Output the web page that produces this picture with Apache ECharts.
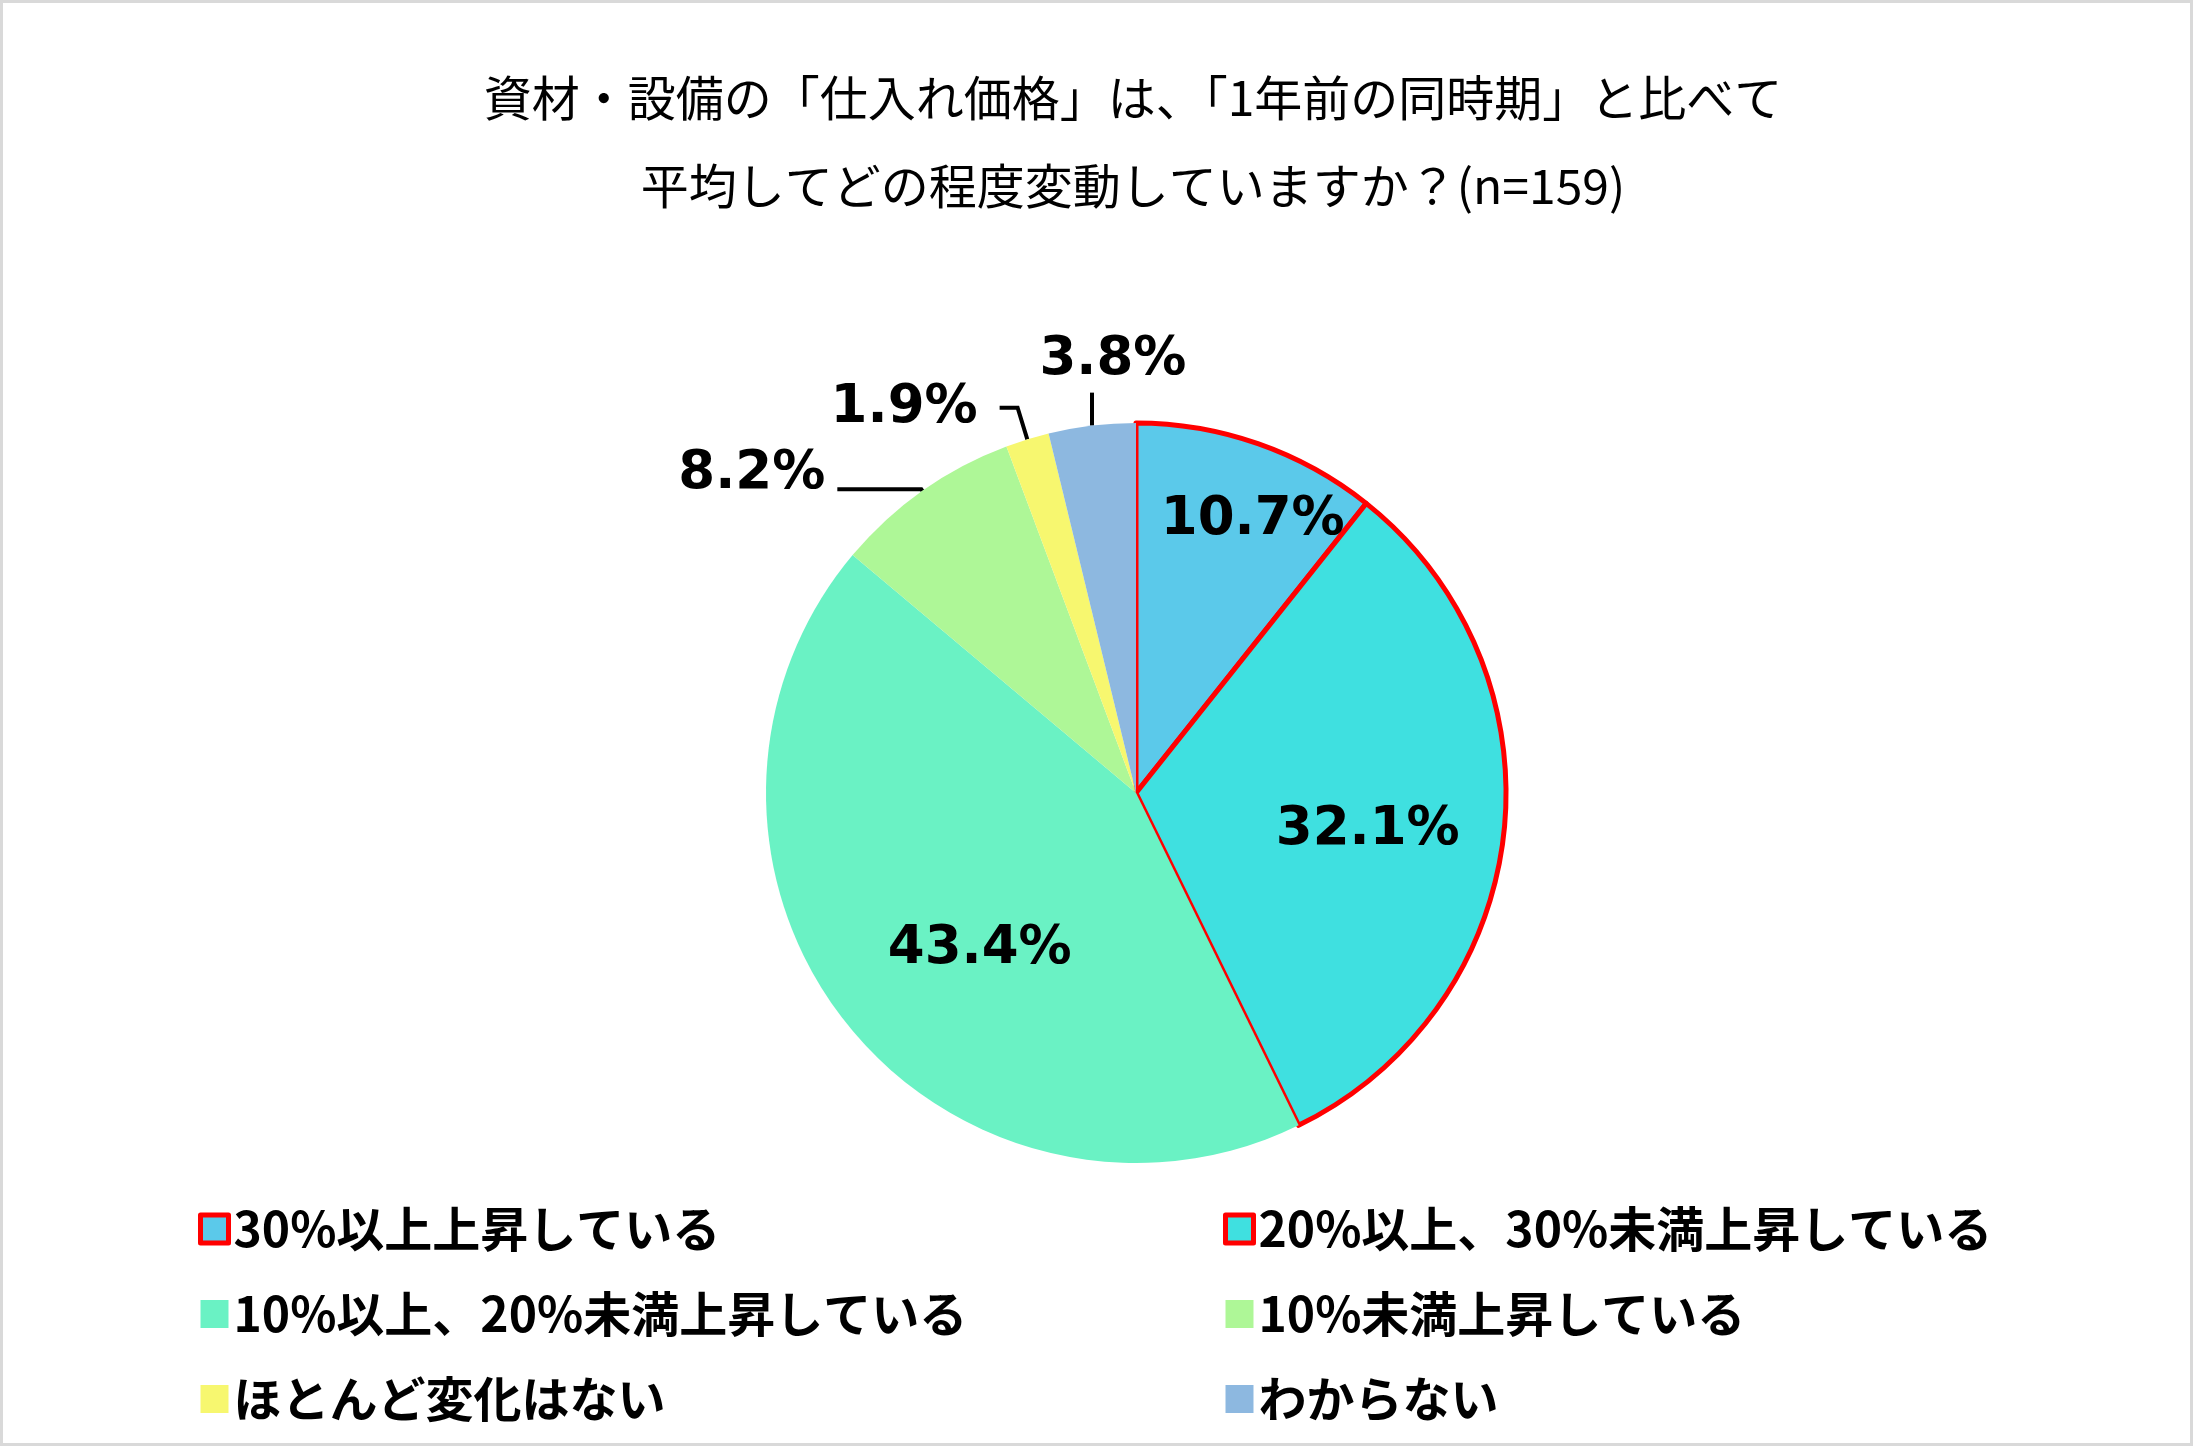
<!DOCTYPE html>
<html><head><meta charset="utf-8">
<script src="https://cdn.jsdelivr.net/npm/echarts@6/dist/echarts.min.js"></script>
<style>html,body{margin:0;padding:0;background:#fff}#c{width:2193px;height:1446px}</style>
</head><body><div id="c"></div>
<script>
const titleText = '資材・設備の「仕入れ価格」は、「1年前の同時期」と比べて\n平均してどの程度変動していますか？(n=159)';
const categories = ['30%以上上昇している','20%以上、30%未満上昇している','10%以上、20%未満上昇している','10%未満上昇している','ほとんど変化はない','わからない'];
const values = [10.7, 32.1, 43.4, 8.2, 1.9, 3.8];
const colors = ['#5BC9EA','#3FE0E0','#6AF2C4','#AEF797','#F7F76F','#8DB8E0'];
const highlighted = [true, true, false, false, false, false];
const insideLabels = [true, true, true, false, false, false];

const chart = echarts.init(document.getElementById('c'), null, {renderer:'canvas'});
const labelFont = {fontFamily:'DejaVu Sans', fontWeight:'bold', fontSize:53, color:'#000'};
const C = [1136, 793], R = 370;
const fmt = p => p.value.toFixed(1) + '%';

const lineLen = [null, null, null, [2, 84], [33, 18], [33, 0]];
const mainData = categories.map((n,i)=>({
  name:n, value:values[i],
  itemStyle:{color:colors[i], borderColor: highlighted[i]?'#FF0000':'transparent', borderWidth: highlighted[i]?5:0},
  label: insideLabels[i] ? {show:false} : Object.assign({show:true, position:'outside', distanceToLabelLine:12, formatter: fmt}, labelFont),
  labelLine: insideLabels[i] ? {show:false} : {show:true, length: lineLen[i][0], length2: lineLen[i][1], lineStyle:{color:'#000', width:4}}
}));
function ghostData(idxs){
  return categories.map((n,i)=>({
    name:n, value:values[i],
    itemStyle:{color:'rgba(0,0,0,0)', borderWidth:0},
    label: idxs.includes(i) ? Object.assign({show:true, position:'inside', formatter: fmt}, labelFont) : {show:false},
    labelLine:{show:false}
  }));
}
// small nudges of label text relative to where the library places it
const insideNudge = {0:[17,13], 1:[8,13], 2:[21,18]};
function insideLayout(p){
  const d = insideNudge[p.dataIndex] || [0,0];
  return {dx:d[0], dy:d[1], hideOverlap:false};
}
function outsideLayout(p){
  const i = p.dataIndex;
  if (i === 3) return {dy:-15, hideOverlap:false};
  if (i === 4) return {dx:-10, dy:0, hideOverlap:false};
  if (i === 5 && p.labelLinePoints) {
    const p0 = p.labelLinePoints[0];
    const top = [p0[0], p0[1] - 33];
    return {x: p0[0] + 21, y: top[1] - 32, align:'center', verticalAlign:'middle',
            labelLinePoints:[p0, top, top], hideOverlap:false};
  }
  return {hideOverlap:false};
}

const legendText = {fontFamily:'Noto Sans CJK JP', fontWeight:'bold', fontSize:48, lineHeight:48, color:'#000'};
function legendItems(idxs){
  return idxs.map(i => ({name:categories[i], icon:'rect',
    itemStyle: highlighted[i] ? {borderColor:'#FF0000', borderWidth:5} : {borderWidth:0}}));
}

chart.setOption({
  animation:false,
  backgroundColor:'#fff',
  graphic:[{type:'rect', shape:{x:1.5,y:1.5,width:2190,height:1443}, style:{fill:'none', stroke:'#d9d9d9', lineWidth:3}, silent:true}],
  title:{text:titleText, left:1128, textAlign:'center', top:49,
    textStyle:{fontFamily:'Noto Sans CJK JP', fontWeight:'normal', fontSize:48, lineHeight:88, color:'#000'}},
  legend:[
    {orient:'vertical', left:193, top:1200, itemWidth:28, itemHeight:28, itemGap:37,
     data:legendItems([0,2,4]), textStyle:legendText},
    {orient:'vertical', left:1218, top:1200, itemWidth:28, itemHeight:28, itemGap:37,
     data:legendItems([1,3,5]), textStyle:legendText}
  ],
  series:[
    {type:'pie', center:C, radius:[0,R], startAngle:90, clockwise:true, data:mainData, silent:true,
     emphasis:{disabled:true}, avoidLabelOverlap:false, labelLayout:outsideLayout},
    {type:'pie', center:C, radius:[0,R*1.2], startAngle:90, clockwise:true, data:ghostData([1,2]), silent:true,
     emphasis:{disabled:true}, avoidLabelOverlap:false, labelLayout:insideLayout},
    {type:'pie', center:C, radius:[0,R*1.62], startAngle:90, clockwise:true, data:ghostData([0]), silent:true,
     emphasis:{disabled:true}, avoidLabelOverlap:false, labelLayout:insideLayout}
  ]
});
</script></body></html>
